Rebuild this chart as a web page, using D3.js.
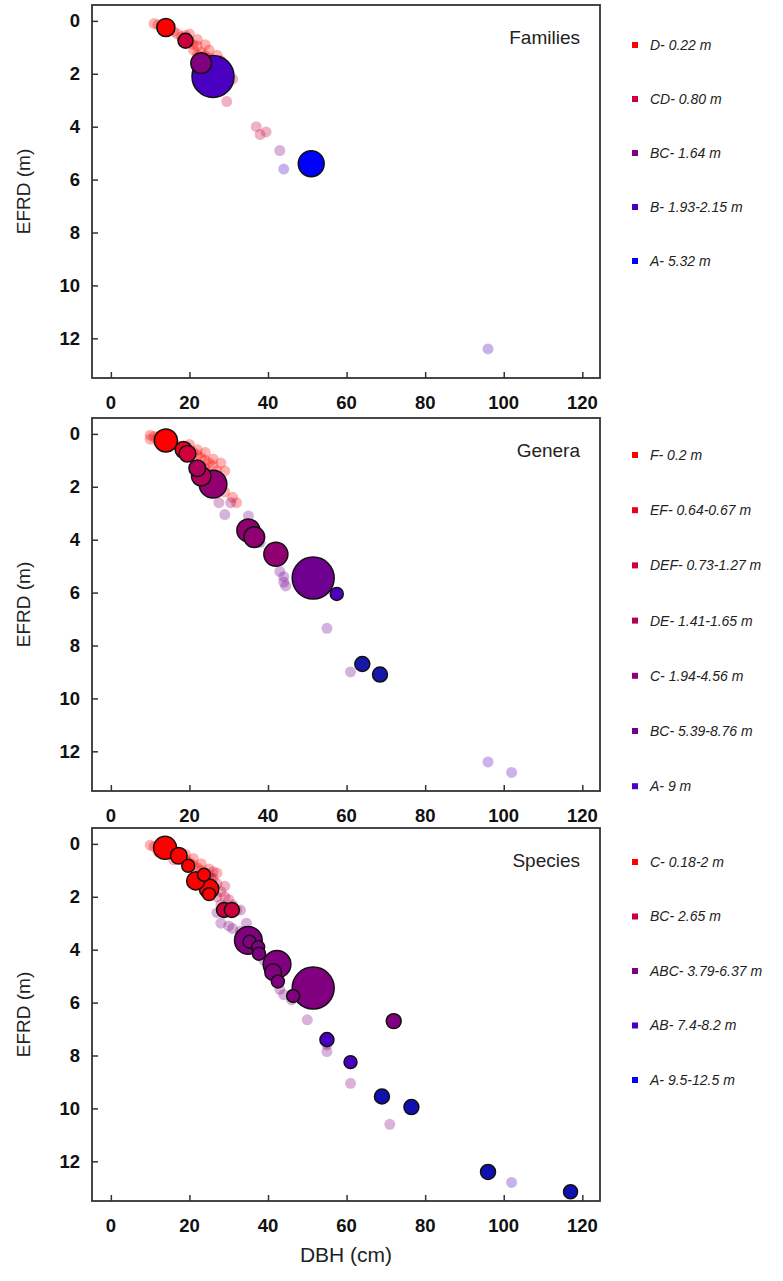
<!DOCTYPE html>
<html lang="en">
<head>
<meta charset="UTF-8">
<title>EFRD vs DBH</title>
<script src="https://d3js.org/d3.v7.min.js"></script>
<style>
  body { margin: 0; background: #fff; }
  text { font-family: "Liberation Sans", Arial, sans-serif; }
</style>
</head>
<body>
<svg id="chart" width="783" height="1281"></svg>
<script>
// ---- data ----
const panelTitles = ['Families', 'Genera', 'Species'];
const xTicks = [0, 20, 40, 60, 80, 100, 120];
const yTicks = [0, 2, 4, 6, 8, 10, 12];

const famGroups = ['D', 'CD', 'BC', 'B', 'A'];
const famLabels = ['D- 0.22 m', 'CD- 0.80 m', 'BC- 1.64 m', 'B- 1.93-2.15 m', 'A- 5.32 m'];
const famColors = ['#ff0000', '#c8003c', '#800080', '#4a00c0', '#0000ff'];
const famFaded = [
  [11, 0.1, 'D'], [12, 0.15, 'D'], [13, 0.2, 'D'], [15, 0.35, 'D'], [16, 0.4, 'D'], [17, 0.5, 'D'],
  [18, 0.6, 'D'], [19, 0.55, 'D'], [20, 0.8, 'D'], [21, 0.9, 'D'], [21, 1.1, 'D'], [22, 0.95, 'D'],
  [23, 1.2, 'D'], [24, 1.3, 'D'], [25, 1.4, 'D'], [26, 1.5, 'D'], [27, 1.6, 'D'], [22, 1.3, 'D'],
  [20, 0.5, 'D'], [22, 0.7, 'D'], [24, 0.9, 'D'], [25, 1.1, 'D'], [27, 1.3, 'D'], [28, 1.5, 'D'],
  [31, 2.2, 'CD'], [29.5, 3.05, 'CD'], [37, 4.0, 'CD'], [38, 4.3, 'CD'], [39.5, 4.2, 'CD'],
  [43, 4.9, 'BC'], [44, 5.6, 'B'], [96, 12.4, 'B']
];
const famMain = [
  [14, 0.25, 'D', 5], [19, 0.75, 'CD', 3], [23, 1.6, 'BC', 7], [26, 2.1, 'B', 36], [51, 5.4, 'A', 12]
];

const genGroups = ['F', 'EF', 'DEF', 'DE', 'C', 'BC', 'A', 'N'];
const genLabels = ['F- 0.2 m', 'EF- 0.64-0.67 m', 'DEF- 0.73-1.27 m', 'DE- 1.41-1.65 m', 'C- 1.94-4.56 m', 'BC- 5.39-8.76 m', 'A- 9 m'];
const genColors = ['#ff0000', '#e8001c', '#d0003a', '#b0005a', '#900070', '#70008f', '#5000c0', '#1818a8'];
const genFaded = [
  [10, 0.05, 'F'], [11, 0.1, 'F'], [12, 0.1, 'F'], [13, 0.2, 'F'], [15, 0.3, 'F'], [16, 0.35, 'F'],
  [17, 0.45, 'F'], [18, 0.5, 'F'], [19, 0.5, 'F'], [20, 0.6, 'F'], [21, 0.7, 'F'], [22, 0.8, 'F'],
  [23, 0.9, 'F'], [24, 1.0, 'F'], [25, 1.1, 'F'], [26, 1.2, 'F'], [27, 1.4, 'F'], [24, 1.3, 'F'],
  [10, 0.2, 'F'], [12, 0.3, 'F'], [20, 0.4, 'F'], [22, 0.6, 'F'], [24, 0.7, 'F'], [26, 0.95, 'F'],
  [28, 1.1, 'F'], [27, 1.6, 'F'], [29, 1.4, 'F'],
  [28, 2.0, 'F'], [29, 2.2, 'F'], [31, 2.4, 'F'], [32, 2.6, 'F'],
  [27.5, 2.6, 'C'], [30.5, 2.6, 'C'], [29, 3.05, 'BC'], [35, 3.1, 'BC'], [38, 4.1, 'BC'],
  [43, 5.2, 'BC'], [44, 5.4, 'BC'], [44, 5.6, 'BC'], [44.5, 5.75, 'BC'], [55, 7.35, 'BC'],
  [61, 9.0, 'BC'], [96, 12.4, 'A'], [102, 12.8, 'A']
];
const genMain = [
  [14, 0.25, 'F', 9], [18.5, 0.6, 'EF', 4], [19.5, 0.75, 'DEF', 4], [22, 1.3, 'DE', 4], [23, 1.6, 'DE', 6],
  [26, 1.9, 'C', 14], [35, 3.65, 'C', 9], [36.5, 3.9, 'C', 7], [42, 4.55, 'C', 10], [51.5, 5.45, 'BC', 36],
  [57.5, 6.05, 'A', 2], [64, 8.7, 'N', 3], [68.5, 9.1, 'N', 3]
];

const spGroups = ['C', 'BC', 'ABC', 'AB', 'A', 'N'];
const spLabels = ['C- 0.18-2 m', 'BC- 2.65 m', 'ABC- 3.79-6.37 m', 'AB- 7.4-8.2 m', 'A- 9.5-12.5 m'];
const spColors = ['#ff0000', '#c8003c', '#800080', '#4a00c0', '#0000ff', '#1010b0'];
const spFaded = [
  [10, 0.05, 'C'], [11, 0.1, 'C'], [12, 0.1, 'C'], [13, 0.15, 'C'], [15, 0.3, 'C'], [16, 0.3, 'C'],
  [17, 0.4, 'C'], [18, 0.55, 'C'], [19, 0.6, 'C'], [20, 0.7, 'C'], [21, 0.8, 'C'], [22, 0.9, 'C'],
  [23, 1.0, 'C'], [24, 1.1, 'C'], [25, 1.2, 'C'], [26, 1.3, 'C'], [16, 0.6, 'C'],
  [19, 0.4, 'C'], [21, 0.55, 'C'], [23, 0.75, 'C'], [25, 0.95, 'C'], [27, 1.1, 'C'], [12, 0.3, 'C'],
  [24, 1.6, 'BC'], [25.5, 1.3, 'BC'], [27, 1.5, 'BC'], [28, 1.8, 'BC'], [29, 2.0, 'BC'], [30, 2.1, 'BC'],
  [31, 2.3, 'BC'], [27, 2.0, 'BC'], [28, 2.3, 'BC'], [32, 2.5, 'BC'], [29, 1.6, 'BC'], [26, 1.05, 'BC'],
  [27, 2.6, 'ABC'], [33, 2.5, 'ABC'], [28, 3.0, 'ABC'], [30, 3.1, 'ABC'], [31, 3.2, 'ABC'],
  [33, 3.3, 'ABC'], [34.5, 3.0, 'ABC'], [39, 4.4, 'ABC'], [43, 5.5, 'ABC'], [44, 5.7, 'ABC'],
  [46, 5.9, 'ABC'], [50, 6.65, 'ABC'], [55, 7.6, 'ABC'], [55, 7.85, 'ABC'], [61, 9.05, 'ABC'],
  [71, 10.6, 'ABC'], [102, 12.8, 'AB']
];
const spMain = [
  [13.8, 0.15, 'C', 9], [17.3, 0.45, 'C', 4], [19.7, 0.83, 'C', 2], [21.6, 1.4, 'C', 5], [23.7, 1.17, 'C', 2],
  [25, 1.7, 'C', 6], [25, 1.9, 'C', 2], [28.8, 2.5, 'BC', 3], [30.8, 2.5, 'BC', 3],
  [35, 3.65, 'ABC', 14], [35.3, 3.7, 'ABC', 2], [37.5, 3.9, 'ABC', 2], [37.7, 4.15, 'ABC', 2],
  [42.3, 4.55, 'ABC', 14], [41.3, 4.85, 'ABC', 4], [42.5, 5.2, 'ABC', 2], [46.4, 5.75, 'ABC', 2],
  [51.5, 5.45, 'ABC', 36], [72, 6.7, 'ABC', 3], [55, 7.4, 'AB', 2.5], [61, 8.25, 'AB', 2],
  [69, 9.55, 'N', 3], [76.5, 9.95, 'N', 3], [96, 12.4, 'N', 3], [117, 13.15, 'N', 2.5]
];

const panels = [
  { groups: famGroups, labels: famLabels, colors: famColors, faded: famFaded, main: famMain, top: 5, legendTop: 45, legendStep: 54 },
  { groups: genGroups, labels: genLabels, colors: genColors, faded: genFaded, main: genMain, top: 418, legendTop: 455, legendStep: 55.2 },
  { groups: spGroups, labels: spLabels, colors: spColors, faded: spFaded, main: spMain, top: 828, legendTop: 862, legendStep: 54.5 }
];

// ---- drawing ----
const svg = d3.select('#chart');
const left = 92, right = 600, panelH = 373;
const x = d3.scaleLinear().domain([-4.8, 124.5]).range([left, right]);
const r = d3.scaleSqrt().domain([0, 36]).range([0, 19]);

panels.forEach((p, i) => {
  const y = d3.scaleLinear().domain([-0.6, 13.5]).range([p.top, p.top + panelH]);
  const color = d3.scaleOrdinal().domain(p.groups).range(p.colors);
  const g = svg.append('g');

  g.append('rect').attr('x', left).attr('y', p.top).attr('width', right - left).attr('height', panelH)
    .attr('fill', 'none').attr('stroke', '#333').attr('stroke-width', 1.8);

  // ticks
  const yAxis = g.append('g').attr('transform', `translate(${left},0)`)
    .call(d3.axisRight(y).tickValues(yTicks).tickSize(6).tickFormat(''));
  yAxis.select('.domain').remove();
  yAxis.selectAll('line').attr('stroke', '#333').attr('stroke-width', 1.5);
  g.selectAll('.ylab').data(yTicks).join('text')
    .attr('x', left - 12).attr('y', d => y(d)).attr('dy', '0.35em')
    .attr('text-anchor', 'end').attr('font-size', 18.5).attr('font-weight', 'bold').attr('fill', '#111')
    .text(d => d);

  const xAxis = g.append('g').attr('transform', `translate(0,${p.top + panelH})`)
    .call(d3.axisTop(x).tickValues(xTicks).tickSize(6).tickFormat(''));
  xAxis.select('.domain').remove();
  xAxis.selectAll('line').attr('stroke', '#333').attr('stroke-width', 1.5);
  g.selectAll('.xlab').data(xTicks).join('text')
    .attr('x', d => x(d)).attr('y', p.top + panelH + 31)
    .attr('text-anchor', 'middle').attr('font-size', 18.5).attr('font-weight', 'bold').attr('fill', '#111')
    .text(d => d);

  // faded points
  g.selectAll('.faded').data(p.faded).join('circle')
    .attr('cx', d => x(d[0])).attr('cy', d => y(d[1])).attr('r', 5.5)
    .attr('fill', d => color(d[2])).attr('fill-opacity', 0.3);

  // highlighted points, big ones first
  const main = p.main.slice().sort((a, b) => b[3] - a[3]);
  g.selectAll('.main').data(main).join('circle')
    .attr('cx', d => x(d[0])).attr('cy', d => y(d[1])).attr('r', d => r(d[3]) + 2)
    .attr('fill', d => color(d[2])).attr('stroke', '#111').attr('stroke-width', 1.5);

  g.append('text').attr('x', 580).attr('y', p.top + 39).attr('text-anchor', 'end')
    .attr('font-size', 19).attr('fill', '#222').text(panelTitles[i]);

  // legend
  const lg = g.selectAll('.leg').data(p.labels).join('g')
    .attr('transform', (d, k) => `translate(632,${p.legendTop + k * p.legendStep})`);
  lg.append('rect').attr('x', 0).attr('y', -3).attr('width', 6).attr('height', 6)
    .attr('fill', (d, k) => p.colors[k]);
  lg.append('text').attr('x', 18).attr('dy', '0.35em').attr('font-size', 14)
    .attr('font-style', 'italic').attr('fill', '#222').text(d => d);

  g.append('text').attr('transform', `translate(30,${p.top + panelH / 2}) rotate(-90)`)
    .attr('text-anchor', 'middle').attr('font-size', 19).attr('fill', '#222').text('EFRD (m)');
});

svg.append('text').attr('x', (left + right) / 2).attr('y', 1262).attr('text-anchor', 'middle')
  .attr('font-size', 21).attr('fill', '#222').text('DBH (cm)');
</script>
</body>
</html>
